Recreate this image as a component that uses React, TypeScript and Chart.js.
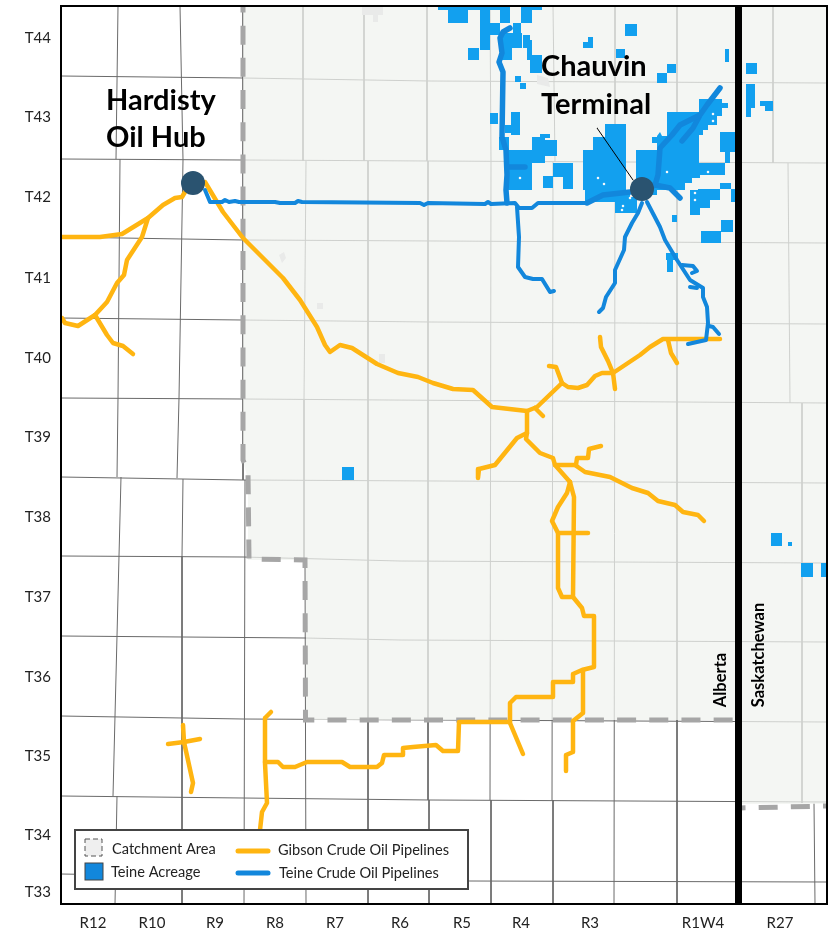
import React, { useEffect, useRef } from "react";
import { Chart, registerables } from "chart.js";

Chart.register(...registerables);

type Pt = number[];

// Map coordinates: x runs west to east, y runs north to south.
const mapX = [61, 827];
const mapY = [6, 904];

const rangeTicks = [93, 152, 215, 275, 335, 400, 462, 521, 590, 703, 780];
const rangeLabels = ["R12", "R10", "R9", "R8", "R7", "R6", "R5", "R4", "R3", "R1W4", "R27"];
const townshipTicks = [38, 117, 197, 278, 358, 437, 517, 597, 677, 756, 835, 892];
const townshipLabels = ["T44", "T43", "T42", "T41", "T40", "T39", "T38", "T37", "T36", "T35", "T34", "T33"];

const gridLines: Pt[][] = [
  [[61, 76], [243, 78], [430, 81], [827, 83]],
  [[61, 159], [243, 160], [430, 161], [827, 163]],
  [[61, 237], [243, 240], [827, 243]],
  [[61, 318], [243, 320], [430, 322], [827, 324]],
  [[61, 398], [243, 399], [827, 403]],
  [[61, 477], [243, 480], [827, 483]],
  [[61, 556], [243, 557], [400, 561], [827, 563]],
  [[61, 636], [305, 638], [400, 640], [827, 642]],
  [[61, 716], [243, 719], [827, 722]],
  [[61, 796], [243, 798], [430, 800], [827, 802]],
  [[61, 874], [243, 877], [470, 881], [827, 882]],
  [[118, 6], [116, 159]], [[120, 159], [118, 398], [117, 477]], [[121, 477], [119, 556], [117, 636], [115, 716], [113, 796]], [[117, 796], [115, 904]],
  [[180, 6], [183, 160]], [[183, 160], [179, 398], [177, 478]], [[183, 479], [182, 556], [182, 904]],
  [[243, 6], [243, 480]], [[245, 480], [244, 904]],
  [[303, 6], [303, 161]], [[306, 161], [304, 400], [304, 560]], [[305, 560], [306, 904]],
  [[364, 6], [364, 161]], [[368, 161], [368, 904]],
  [[427, 6], [427, 161]], [[428, 161], [428, 800]], [[429, 800], [429, 904]],
  [[490, 6], [491, 162]], [[491, 162], [490, 800]], [[491, 800], [491, 904]],
  [[553, 6], [555, 162]], [[553, 162], [552, 800]], [[553, 800], [553, 904]],
  [[615, 6], [615, 163]], [[615, 163], [614, 904]],
  [[677, 6], [677, 163]], [[677, 163], [677, 904]],
  [[773, 6], [773, 163]], [[788, 163], [790, 403]], [[802, 403], [802, 803]], [[814, 803], [815, 904]],
];

const catchmentArea: Pt[] = [[243, 6], [827, 6], [827, 804], [739, 804], [739, 720], [306, 720], [306, 560], [248, 560], [248, 480], [243, 460], [243, 6]];
const catchmentDash: Pt[][] = [
  [[243, 7], [243, 460], [248, 472], [249, 559], [305, 560], [305.5, 720], [735, 720]],
  [[740, 808], [827, 806]],
];
const faintTowns: Pt[][] = [
  [[362, 7], [383, 7], [383, 15], [378, 15], [378, 22], [373, 22], [373, 15], [362, 15], [362, 7]],
  [[279, 255], [284, 252], [286, 258], [282, 263], [279, 255]],
  [[317, 303], [323, 303], [323, 309], [317, 309], [317, 303]],
  [[379, 354], [385, 354], [385, 363], [379, 363], [379, 354]],
  [[537, 75], [548, 78], [550, 87], [537, 84], [537, 75]],
];

const acreageBlocks: number[][] = [
  [438, 7, 448, 10], [448, 7, 468, 23], [468, 7, 500, 10], [480, 7, 490, 50], [490, 23, 500, 35], [500, 7, 510, 23],
  [521, 7, 542, 10], [521, 10, 532, 23], [513, 23, 521, 33], [500, 33, 522, 48], [502, 48, 512, 60], [468, 48, 479, 60],
  [523, 35, 530, 48], [527, 40, 532, 60], [530, 55, 542, 73], [515, 76, 521, 82], [520, 83, 526, 89],
  [625, 24, 637, 36], [583, 42, 593, 48], [588, 37, 593, 42], [616, 49, 625, 58], [725, 49, 729, 62],
  [667, 64, 676, 73], [657, 73, 667, 83], [746, 63, 757, 74], [746, 84, 755, 108], [746, 108, 751, 117],
  [760, 101, 773, 106], [765, 106, 773, 111], [490, 113, 498, 124], [511, 112, 520, 135], [505, 125, 512, 133],
  [499, 137, 509, 150], [508, 150, 532, 190], [532, 137, 545, 163], [540, 134, 550, 138], [545, 140, 557, 156],
  [553, 163, 573, 177], [563, 177, 573, 189], [543, 176, 553, 188],
  [605, 124, 626, 137], [593, 137, 626, 150], [583, 150, 626, 190], [585, 190, 630, 202], [615, 197, 637, 213],
  [652, 137, 660, 143], [720, 132, 735, 152], [725, 152, 730, 163], [708, 163, 725, 175],
  [690, 190, 700, 215], [698, 189, 720, 200], [698, 200, 710, 208], [720, 183, 731, 189], [731, 189, 740, 202],
  [672, 215, 677, 222], [701, 231, 721, 243], [721, 220, 733, 232], [667, 253, 673, 272], [666, 253, 678, 260],
  [342, 467, 354, 480], [771, 533, 782, 546], [788, 542, 792, 546], [801, 563, 813, 577], [821, 563, 826, 577],
];
const acreageMain: Pt[] = [
  [636, 150], [657, 150], [657, 136], [660, 132], [662, 136], [667, 136], [667, 112], [699, 112], [699, 99], [722, 99],
  [722, 103], [728, 103], [728, 108], [722, 108], [722, 116], [717, 116], [717, 125], [708, 125], [708, 130], [703, 130],
  [703, 135], [699, 135], [699, 163], [712, 163], [712, 175], [700, 175], [700, 178], [692, 178], [692, 183], [685, 183],
  [685, 190], [657, 190], [657, 195], [636, 195], [636, 150],
];
const acreageHoles: Pt[] = [[520, 178], [598, 178], [604, 184], [667, 172], [708, 172], [713, 114], [713, 121], [630, 198], [623, 206], [622, 210], [695, 193], [695, 200]];

const gibsonPipelines: Pt[][] = [
  [[62, 237], [100, 237], [122, 234], [148, 218], [163, 205], [175, 198], [182, 197], [185, 192]],
  [[148, 218], [142, 237], [127, 260], [124, 275], [117, 283], [107, 302], [95, 315], [78, 326], [65, 323], [62, 318]],
  [[95, 315], [107, 335], [113, 343], [123, 346], [133, 354]],
  [[205, 182], [223, 212], [243, 238], [283, 278], [300, 300], [317, 327], [325, 345], [330, 352], [340, 345], [352, 348], [377, 364], [398, 373], [418, 377], [433, 383], [453, 389], [473, 390], [492, 407], [527, 411], [537, 407], [562, 383], [568, 387], [578, 388], [587, 385], [595, 376], [602, 373], [613, 373], [640, 355], [650, 347], [663, 339], [720, 339]],
  [[562, 383], [556, 367], [549, 366]],
  [[600, 337], [601, 347], [608, 361], [613, 373], [615, 389]],
  [[668, 340], [671, 353], [677, 363]],
  [[535, 408], [543, 416]],
  [[527, 411], [527, 433], [526, 439], [540, 453], [553, 458], [555, 465], [570, 482]],
  [[527, 433], [517, 438], [495, 465], [479, 469], [478, 478]],
  [[555, 465], [576, 465], [577, 458], [588, 458], [589, 449], [601, 446]],
  [[575, 465], [585, 472], [610, 477], [632, 488], [648, 493], [658, 501], [675, 505], [683, 512], [698, 515], [704, 521]],
  [[570, 482], [574, 497], [573, 597]],
  [[570, 482], [567, 493], [558, 507], [552, 521], [558, 533], [558, 588], [562, 597], [573, 597], [582, 608], [584, 616], [594, 616], [594, 667], [582, 670], [573, 674], [573, 682], [553, 682], [553, 697], [516, 697], [510, 703], [510, 722]],
  [[558, 533], [588, 533]],
  [[583, 670], [583, 713], [573, 721], [573, 752], [566, 755], [566, 771]],
  [[510, 722], [459, 722], [458, 751], [443, 751], [436, 745], [413, 747], [403, 748], [403, 755], [384, 755], [382, 763], [377, 767], [350, 767], [342, 762], [307, 762], [295, 767], [283, 767], [278, 762], [265, 762]],
  [[510, 723], [523, 754]],
  [[271, 712], [265, 718], [265, 763], [267, 803], [262, 812], [260, 830]],
  [[183, 725], [184, 742], [193, 783], [191, 792]],
  [[168, 744], [184, 742], [200, 739]],
];

const teinePipelines: Pt[][] = [
  [[205, 190], [210, 202], [222, 202], [225, 200], [229, 202], [235, 201], [239, 202], [275, 202], [280, 203], [295, 203], [298, 201], [302, 202], [420, 203], [424, 205], [428, 203], [485, 204], [488, 202], [491, 204], [515, 203], [519, 208], [532, 208], [538, 203], [587, 203]],
  [[517, 207], [519, 237], [518, 267], [525, 277], [533, 279], [542, 279], [550, 292], [554, 291]],
  [[642, 203], [638, 213], [632, 223], [625, 237], [624, 250], [615, 270], [615, 283], [606, 297], [603, 308], [599, 312]],
  [[647, 202], [660, 227], [665, 240], [677, 260], [690, 280], [703, 288], [703, 297], [707, 307], [708, 323], [706, 340], [688, 344]],
  [[709, 326], [713, 327], [719, 334]],
  [[682, 265], [693, 266], [697, 271], [692, 273]],
  [[690, 287], [697, 288]],
];
const teineTrunks: Pt[][] = [
  [[587, 203], [603, 195], [630, 192]],
  [[510, 28], [503, 32], [500, 38], [502, 53], [499, 62], [503, 72], [502, 137], [506, 150], [507, 175], [506, 190], [507, 203]],
  [[508, 167], [525, 167]],
  [[645, 190], [655, 185], [658, 175], [660, 148], [672, 135], [680, 125], [700, 115], [707, 105], [720, 88]],
  [[682, 141], [693, 128], [699, 117]],
  [[655, 185], [670, 188], [680, 198]],
];

const provinceBorder: Pt[] = [[738.5, 6], [738.5, 904]];
const terminalLeader: Pt[] = [[597, 128], [633, 180]];
const hubs: Pt[] = [[193, 183], [642, 189]];

const mapNotes = [
  { text: "Hardisty", x: 106, y: 101 },
  { text: "Oil Hub", x: 106, y: 138 },
  { text: "Chauvin", x: 541, y: 67 },
  { text: "Terminal", x: 541, y: 105 },
];
const provinceNotes = [
  { text: "Alberta", x: 721, y: 680 },
  { text: "Saskatchewan", x: 759, y: 655 },
];
const legendBox = [75, 830, 468, 889];
const legendTexts = [
  { text: "Catchment Area", x: 112, y: 849 },
  { text: "Teine Acreage", x: 111, y: 872 },
  { text: "Gibson Crude Oil Pipelines", x: 278, y: 850 },
  { text: "Teine Crude Oil Pipelines", x: 279, y: 873 },
];

const BLUE_ACREAGE = "#12a0ef";
const BLUE_LINE = "#1287dc";
const GOLD = "#ffb511";
const FONT = "Lato, 'Open Sans', sans-serif";

const xy = (p: Pt[]) => p.map(([x, y]) => ({ x, y }));
const rect = ([a, b, c, d]: number[]) => [[a, b], [c, b], [c, d], [a, d], [a, b]];

function line(points: Pt[], color: string, width: number, order: number, extra: any = {}) {
  return {
    data: xy(points),
    showLine: true,
    borderColor: color,
    borderWidth: width,
    borderCapStyle: "round",
    borderJoinStyle: "round",
    pointRadius: 0,
    order,
    ...extra,
  };
}
function shape(points: Pt[], color: string, order: number) {
  return line(points, color, 0, order, { fill: "shape", backgroundColor: color });
}
function noScalePadding(s: any) {
  s.paddingLeft = 0;
  s.paddingRight = 0;
  s.paddingTop = 0;
  s.paddingBottom = 0;
}

const mapFurniture = {
  id: "mapFurniture",
  afterDatasetsDraw(chart: any) {
    const { ctx, chartArea: a, scales } = chart;
    const px = (v: number) => scales.x.getPixelForValue(v);
    const py = (v: number) => scales.y.getPixelForValue(v);
    ctx.save();
    ctx.strokeStyle = "#000";
    ctx.lineWidth = 2;
    ctx.strokeRect(a.left, a.top, a.right - a.left, a.bottom - a.top);

    ctx.fillStyle = "#000";
    ctx.textBaseline = "middle";
    ctx.textAlign = "left";
    ctx.font = `700 29px ${FONT}`;
    mapNotes.forEach((n) => ctx.fillText(n.text, px(n.x), py(n.y)));

    ctx.font = `700 16.5px ${FONT}`;
    provinceNotes.forEach((n) => {
      ctx.save();
      ctx.translate(px(n.x), py(n.y));
      ctx.rotate(-Math.PI / 2);
      ctx.textAlign = "center";
      ctx.fillText(n.text, 0, 0);
      ctx.restore();
    });

    const [x0, y0, x1, y1] = legendBox;
    ctx.fillStyle = "#fff";
    ctx.fillRect(px(x0), py(y0), x1 - x0, y1 - y0);
    ctx.strokeStyle = "#444";
    ctx.lineWidth = 2;
    ctx.strokeRect(px(x0), py(y0), x1 - x0, y1 - y0);

    ctx.fillStyle = "#efefef";
    ctx.fillRect(px(85), py(839), 17, 17);
    ctx.strokeStyle = "#555";
    ctx.lineWidth = 1;
    ctx.setLineDash([5, 3]);
    ctx.strokeRect(px(85), py(839), 17, 17);
    ctx.setLineDash([]);
    ctx.fillStyle = BLUE_LINE;
    ctx.fillRect(px(85), py(863), 18, 17);
    ctx.strokeStyle = "#444";
    ctx.strokeRect(px(85), py(863), 18, 17);

    ctx.lineCap = "round";
    ctx.lineWidth = 5;
    ctx.strokeStyle = GOLD;
    ctx.beginPath();
    ctx.moveTo(px(238), py(851));
    ctx.lineTo(px(268), py(851));
    ctx.stroke();
    ctx.strokeStyle = BLUE_LINE;
    ctx.beginPath();
    ctx.moveTo(px(238), py(873));
    ctx.lineTo(px(268), py(873));
    ctx.stroke();

    ctx.fillStyle = "#222";
    ctx.font = `400 14.6px ${FONT}`;
    legendTexts.forEach((t) => ctx.fillText(t.text, px(t.x), py(t.y)));
    ctx.restore();
  },
};

export default function App() {
  const ref = useRef<HTMLCanvasElement>(null);
  useEffect(() => {
    const datasets: any[] = [
      ...gridLines.map((g) => line(g, "#6a6a6a", 1, 50, { borderCapStyle: "butt" })),
      shape(catchmentArea, "rgba(240,243,239,0.75)", 40),
      ...faintTowns.map((t) => shape(t, "#e9eae9", 35)),
      ...catchmentDash.map((d) =>
        line(d, "#a6a6a6", 5, 30, { borderDash: [19, 13.18], borderDashOffset: 13.5, borderCapStyle: "butt", borderJoinStyle: "miter" })
      ),
      ...acreageBlocks.map((b) => shape(rect(b), BLUE_ACREAGE, 25)),
      shape(acreageMain, BLUE_ACREAGE, 25),
      {
        data: xy(acreageHoles),
        pointStyle: "rect",
        pointRadius: 1.6,
        pointBorderWidth: 0,
        pointBackgroundColor: "#f4f8fb",
        showLine: false,
        order: 24,
      },
      ...gibsonPipelines.map((p) => line(p, GOLD, 4.5, 15)),
      ...teinePipelines.map((p) => line(p, BLUE_LINE, 4, 14)),
      ...teineTrunks.map((p) => line(p, BLUE_LINE, 5.5, 13)),
      line(provinceBorder, "#000", 7, 10, { borderCapStyle: "butt" }),
      line(terminalLeader, "#000", 1, 9),
      {
        data: xy(hubs),
        pointStyle: "circle",
        pointRadius: 12,
        pointBorderWidth: 0,
        pointBackgroundColor: "#2a5370",
        showLine: false,
        order: 5,
      },
    ];
    const chart = new Chart(ref.current!, {
      type: "scatter",
      data: { datasets },
      plugins: [mapFurniture],
      options: {
        responsive: false,
        animation: false,
        events: [],
        layout: { autoPadding: false, padding: { top: 6, right: 8, left: 0, bottom: 0 } },
        plugins: { legend: { display: false }, tooltip: { enabled: false } },
        scales: {
          x: {
            type: "linear",
            min: mapX[0],
            max: mapX[1],
            grid: { display: false, drawTicks: false },
            border: { display: false },
            afterBuildTicks: (s: any) => {
              s.ticks = rangeTicks.map((value) => ({ value }));
            },
            afterFit: (s: any) => {
              s.height = 27;
              noScalePadding(s);
            },
            ticks: {
              autoSkip: false,
              maxRotation: 0,
              minRotation: 0,
              padding: 10,
              color: "#222",
              font: { family: FONT, size: 15 },
              callback: (v: any) => rangeLabels[rangeTicks.indexOf(Number(v))] ?? "",
            },
          },
          y: {
            type: "linear",
            reverse: true,
            min: mapY[0],
            max: mapY[1],
            grid: { display: false, drawTicks: false },
            border: { display: false },
            afterBuildTicks: (s: any) => {
              s.ticks = townshipTicks.map((value) => ({ value }));
            },
            afterFit: (s: any) => {
              s.width = 61;
              noScalePadding(s);
            },
            ticks: {
              autoSkip: false,
              padding: 10,
              color: "#222",
              font: { family: FONT, size: 15 },
              callback: (v: any) => townshipLabels[townshipTicks.indexOf(Number(v))] ?? "",
            },
          },
        },
      } as any,
    });
    return () => chart.destroy();
  }, []);
  return (
    <canvas
      ref={ref}
      width={835}
      height={931}
      style={{ position: "absolute", left: 0, top: 0, width: 835, height: 931, display: "block" }}
    />
  );
}
